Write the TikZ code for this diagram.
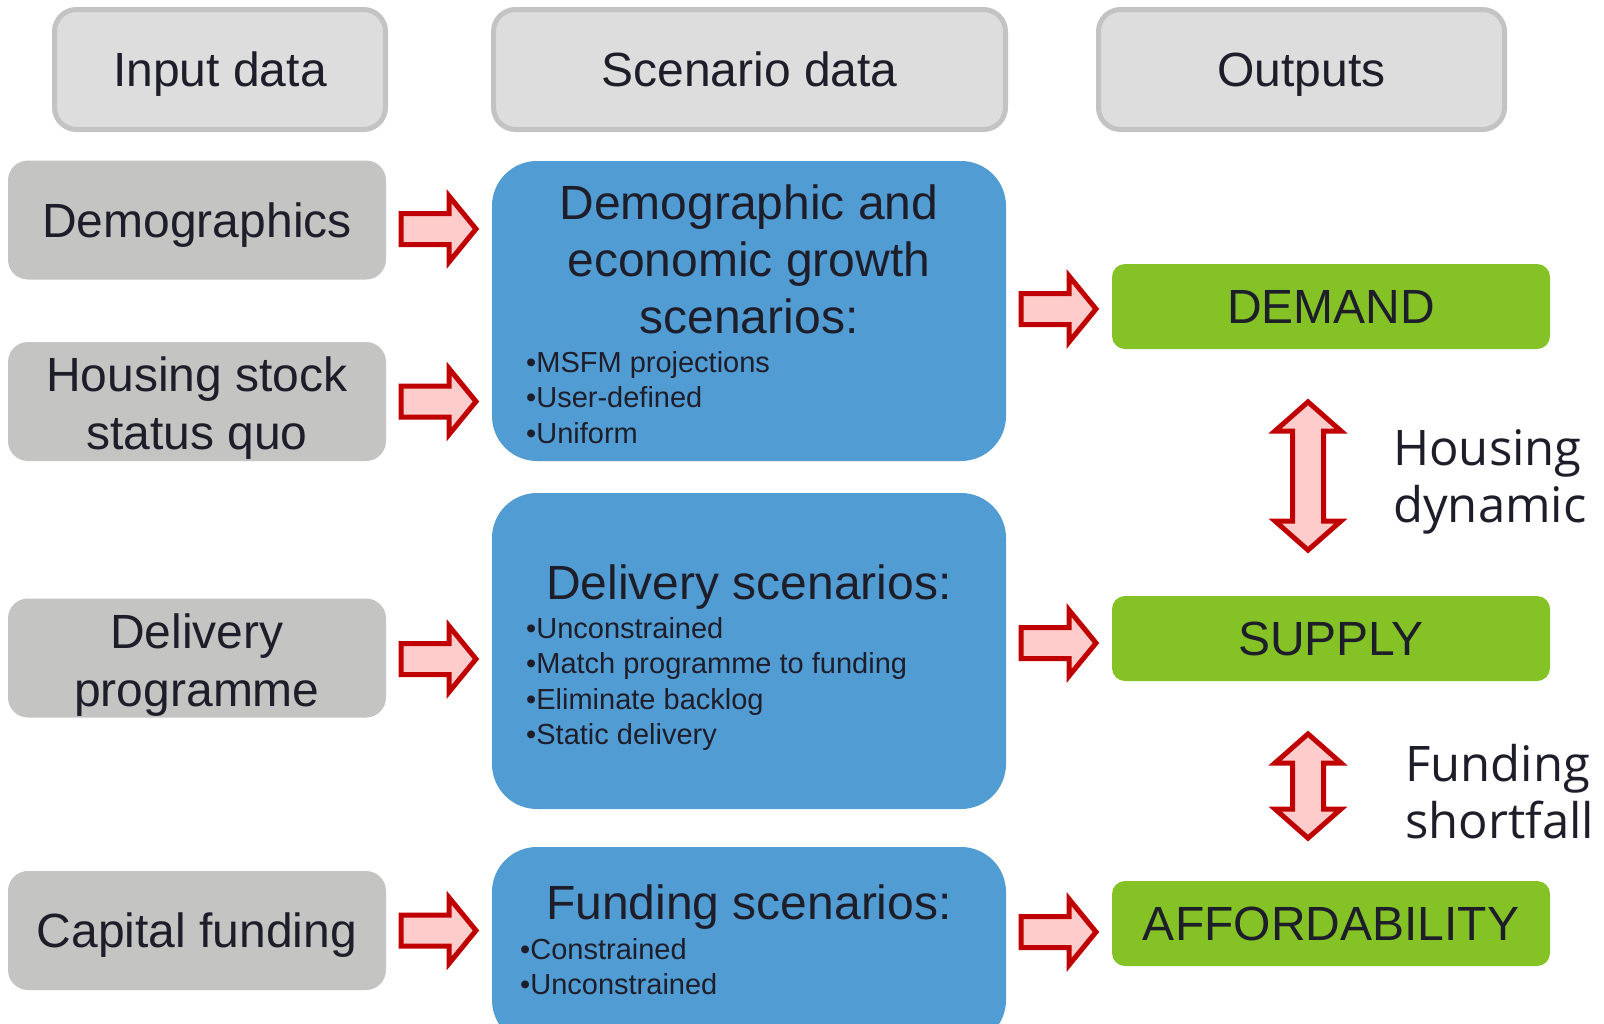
\documentclass[tikz,border=0pt]{standalone}
\usepackage{fontspec}
\setmainfont{Liberation Sans}
\newfontfamily\notefont{Open Sans}
\usetikzlibrary{calc}

\definecolor{hdrfill}{HTML}{DDDDDD}
\definecolor{hdrline}{HTML}{C3C3C3}
\definecolor{inpfill}{HTML}{C4C4C2}
\definecolor{scnblue}{HTML}{529CD4}
\definecolor{outgreen}{HTML}{84C226}
\definecolor{arrline}{HTML}{C00000}
\definecolor{arrfill}{HTML}{FFCCCC}
\definecolor{ink}{HTML}{1E1E2A}

\tikzset{
  x=1pt, y=-1pt,
  every node/.style={text=ink, inner sep=0pt},
  % single line of 48pt capitals centred on the box centre
  oneline/.style={text height=34.5pt, text depth=0pt},
  % two lines of 48pt text, nudged slightly below the box centre
  twoline/.style={text height=106pt, text depth=10pt},
  header/.style={draw=hdrline, line width=5pt, fill=hdrfill, rounded corners=22pt,
    minimum height=120pt, font=\fontsize{48}{58}\selectfont, oneline},
  inbox/.style={fill=inpfill, rounded corners=20pt, minimum width=378pt,
    minimum height=119pt, align=center, font=\fontsize{48}{58}\selectfont},
  scenbox/.style={fill=scnblue, rounded corners=45pt, minimum width=514pt},
  outbox/.style={fill=outgreen, rounded corners=13pt, minimum width=438pt,
    minimum height=85pt, font=\fontsize{48}{58}\selectfont, oneline},
  scentitle/.style={font=\fontsize{48}{57}\selectfont, align=center},
  scenitems/.style={font=\fontsize{29}{35.5}\selectfont, align=left, anchor=north west},
  notetext/.style={font=\notefont\fontsize{49}{57}\selectfont, align=left, anchor=west},
  blockarrow/.style={draw=arrline, fill=arrfill, line width=5pt, line join=miter},
  rblock/.pic={\path[blockarrow] (-38,-15.5) -- (10,-15.5) -- (10,-33) -- (37,0)
    -- (10,33) -- (10,15.5) -- (-38,15.5) -- cycle;},
  vblock/.pic={\path[blockarrow] (0,-#1+3.4) -- (33,-#1+32.5) -- (15.5,-#1+32.5)
    -- (15.5,#1-32.5) -- (33,#1-32.5) -- (0,#1-3.4) -- (-33,#1-32.5)
    -- (-15.5,#1-32.5) -- (-15.5,-#1+32.5) -- (-33,-#1+32.5) -- cycle;}
}

\begin{document}
\begin{tikzpicture}
  \clip (0,0) rectangle (1604,1023);
  \fill[white] (0,0) rectangle (1604,1023);

  % column headers
  \node[header, minimum width=331pt] (hin)  at (220,69.5)   {Input data};
  \node[header, minimum width=512pt] (hscn) at (749.5,69.5) {Scenario data};
  \node[header, minimum width=406pt] (hout) at (1301.5,69.5) {Outputs};

  % input data boxes
  \node[inbox, oneline] (demo)  at (197,220)   {Demographics};
  \node[inbox, twoline] (house) at (197,401.5) {Housing stock\\status quo};
  \node[inbox, twoline] (deliv) at (197,658)   {Delivery\\programme};
  \node[inbox, oneline] (capital) at (197,930.5) {Capital funding};

  % scenario boxes
  \node[scenbox, minimum height=300pt] (growth)  at (749,311) {};
  \node[scenbox, minimum height=316pt] (delsc)   at (749,651) {};
  \node[scenbox, minimum height=198pt] (fundsc)  at (749,946) {};

  \node[scentitle] (growtht) at (749,259) {Demographic and\\economic growth\\scenarios:};
  \node[scenitems] (growthi) at (526,351) {•MSFM projections\\•User-defined\\•Uniform};

  \node[scentitle] (delsct) at (749,587) {Delivery scenarios:};
  \node[scenitems] (delsci) at (526,617) {•Unconstrained\\•Match programme to funding\\•Eliminate backlog\\•Static delivery};

  \node[scentitle] (fundsct) at (749,907) {Funding scenarios:};
  \node[scenitems] (fundsci) at (520,938) {•Constrained\\•Unconstrained};

  % outputs
  \node[outbox] (demand) at (1331,306.5) {DEMAND};
  \node[outbox] (supply) at (1331,638.5) {SUPPLY};
  \node[outbox] (afford) at (1331,923.5) {AFFORDABILITY};

  % inputs feeding scenarios
  \pic at ($(demo.east)!0.5!(growth.west |- demo.east)+(0,9)$) {rblock};
  \pic at ($(house.east)!0.5!(growth.west |- house.east)$) {rblock};
  \pic at ($(deliv.east)!0.5!(delsc.west |- deliv.east)+(0,1)$) {rblock};
  \pic at ($(capital.east)!0.5!(fundsc.west |- capital.east)$) {rblock};

  % scenarios feeding outputs
  \pic at ($(growth.east |- demand.west)!0.5!(demand.west)+(0,2.5)$) {rblock};
  \pic at ($(delsc.east |- supply.west)!0.5!(supply.west)+(0,4.5)$) {rblock};
  \pic at ($(fundsc.east |- afford.west)!0.5!(afford.west)+(0,8.5)$) {rblock};

  % links between outputs
  \pic at ($(demand.south)!0.5!(supply.north)+(-23,3.5)$) {vblock=77.5};
  \pic at ($(supply.south)!0.5!(afford.north)+(-23,5)$) {vblock=55.5};

  \node[notetext] (housdyn)  at (1393,482) {Housing\\dynamic};
  \node[notetext] (fundshort) at (1405,792) {Funding\\shortfall};
\end{tikzpicture}
\end{document}
